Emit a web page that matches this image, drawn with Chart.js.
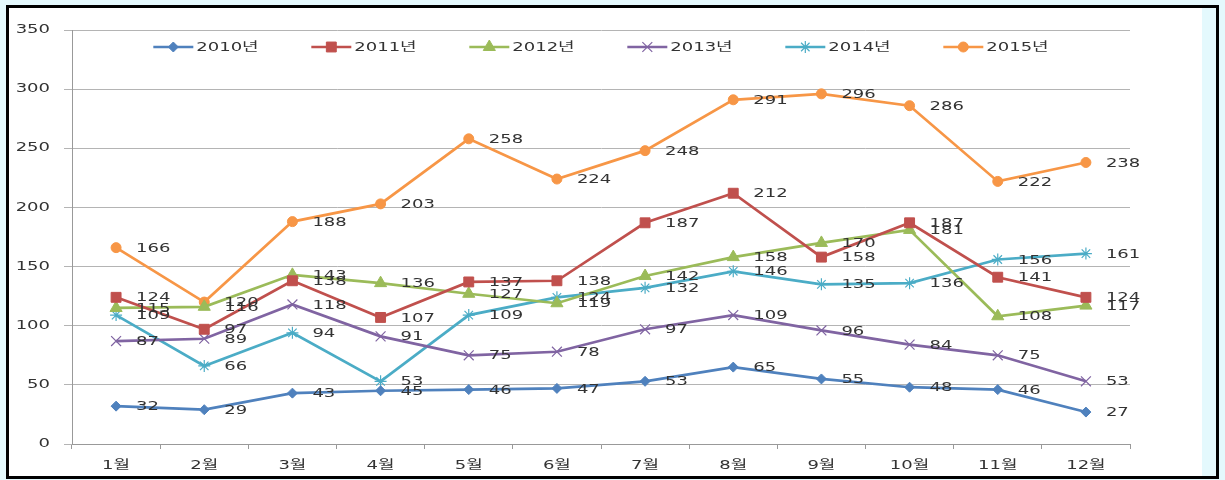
<!DOCTYPE html>
<html>
<head>
<meta charset="utf-8">
<script src="https://cdn.jsdelivr.net/npm/chart.js@4"></script>
<style>
  html, body { margin: 0; padding: 0; background: #e4f9fd; }
  #frame {
    position: absolute; left: 6px; top: 5px; width: 1213px; height: 474px;
    border: 3px solid #000; box-sizing: border-box; background: #e4f9fd;
  }
  #paper { position: absolute; left: 0; top: 0; width: 1193px; height: 468px; background: #fff; }
  #chart { position: absolute; left: 0; top: 0; display: block; }
</style>
</head>
<body>
<div id="frame"><div id="paper"></div><canvas id="chart" width="1207" height="468"></canvas></div>
<script>
// data
const months = ['1월', '2월', '3월', '4월', '5월', '6월', '7월', '8월', '9월', '10월', '11월', '12월'];
const yearNames = ['2010년', '2011년', '2012년', '2013년', '2014년', '2015년'];
const y2010 = [32, 29, 43, 45, 46, 47, 53, 65, 55, 48, 46, 27];
const y2011 = [124, 97, 138, 107, 137, 138, 187, 212, 158, 187, 141, 124];
const y2012 = [115, 116, 143, 136, 127, 119, 142, 158, 170, 181, 108, 117];
const y2013 = [87, 89, 118, 91, 75, 78, 97, 109, 96, 84, 75, 53];
const y2014 = [109, 66, 94, 53, 109, 124, 132, 146, 135, 136, 156, 161];
const y2015 = [166, 120, 188, 203, 258, 224, 248, 291, 296, 286, 222, 238];
const yTicks = [0, 50, 100, 150, 200, 250, 300, 350];

const FONT = "12px 'DejaVu Sans', 'Noto Sans CJK KR', sans-serif";
const SX = 1.5; // the original lettering is stretched sideways
const TEXT = '#333';
const colors = ['#4f81bd', '#c0504d', '#9bbb59', '#8064a2', '#4bacc6', '#f79646'];
const styles = ['rectRot', 'rect', 'triangle', 'crossRot', 'star', 'circle'];
const radii = [5, 7, 7, 7, 6, 5];
const series = [y2010, y2011, y2012, y2013, y2014, y2015];

const datasets = series.map((d, i) => ({
  label: yearNames[i],
  data: d,
  borderColor: colors[i],
  backgroundColor: colors[i],
  borderWidth: 2.7,
  pointStyle: styles[i],
  pointRadius: radii[i],
  pointBorderWidth: (i === 3 || i === 4) ? 1.2 : 1,
  pointBorderColor: colors[i],
  pointBackgroundColor: colors[i],
  tension: 0
}));

function wideText(ctx, text, x, y, align) {
  ctx.save();
  ctx.translate(x, y);
  ctx.scale(SX, 1);
  ctx.font = FONT;
  ctx.fillStyle = TEXT;
  ctx.textAlign = align;
  ctx.textBaseline = 'middle';
  ctx.fillText(text, 0, 0);
  ctx.restore();
}

// tick labels, placed through the chart's own scales
const tickLabels = {
  id: 'tickLabels',
  afterDraw(chart) {
    const ctx = chart.ctx;
    const xs = chart.scales.x, ys = chart.scales.y;
    yTicks.forEach(v => wideText(ctx, String(v), ys.left + 41, ys.getPixelForValue(v), 'right'));
    months.forEach((m, i) => wideText(ctx, m, xs.getPixelForValue(i), xs.top + 22, 'center'));
  }
};

// value labels to the right of each point
const valueLabels = {
  id: 'valueLabels',
  afterDatasetsDraw(chart) {
    const ctx = chart.ctx;
    chart.data.datasets.forEach((ds, i) => {
      chart.getDatasetMeta(i).data.forEach((pt, j) => {
        wideText(ctx, String(ds.data[j]), pt.x + 20, pt.y + 1, 'left');
      });
    });
  }
};

// legend: line with marker, drawn inside the plot area top
const lineLegend = {
  id: 'lineLegend',
  afterDraw(chart) {
    const ctx = chart.ctx;
    const area = chart.chartArea;
    const pitch = 158, seg = 40;
    const n = chart.data.datasets.length;
    ctx.save();
    ctx.font = FONT;
    const lastW = seg + 3 + SX * ctx.measureText(chart.data.datasets[n - 1].label).width;
    ctx.restore();
    const total = pitch * (n - 1) + lastW;
    let x = (area.left + area.right) / 2 - total / 2;
    const y = area.top + 17;
    chart.data.datasets.forEach((ds) => {
      ctx.save();
      ctx.strokeStyle = ds.borderColor;
      ctx.lineWidth = 2.7;
      ctx.beginPath();
      ctx.moveTo(x, y);
      ctx.lineTo(x + seg, y);
      ctx.stroke();
      ctx.fillStyle = ds.backgroundColor;
      ctx.lineWidth = ds.pointBorderWidth;
      Chart.helpers.drawPoint(ctx, { pointStyle: ds.pointStyle, radius: ds.pointRadius, borderWidth: ds.pointBorderWidth }, x + seg / 2, y);
      ctx.restore();
      wideText(ctx, ds.label, x + seg + 3, y + 1, 'left');
      x += pitch;
    });
  }
};

new Chart(document.getElementById('chart').getContext('2d'), {
  type: 'line',
  data: { labels: months, datasets },
  options: {
    responsive: false,
    animation: false,
    layout: { padding: { left: 0, right: 86, top: 22, bottom: 0 } },
    plugins: {
      legend: { display: false },
      tooltip: { enabled: false }
    },
    scales: {
      x: {
        offset: true,
        grid: { display: true, drawOnChartArea: false, drawTicks: true, tickLength: 5, offset: true, color: '#999' },
        border: { display: true, color: '#999', width: 1 },
        ticks: { display: false },
        afterFit(scale) { scale.height = 32; }
      },
      y: {
        min: 0,
        max: 350,
        afterBuildTicks(scale) { scale.ticks = yTicks.map(v => ({ value: v })); },
        grid: { color: '#b4b4b4', lineWidth: 1, tickLength: 8 },
        border: { display: true, color: '#999', width: 1 },
        ticks: { display: false },
        afterFit(scale) { scale.width = 63; }
      }
    }
  },
  plugins: [valueLabels, tickLabels, lineLegend]
});
</script>
</body>
</html>
